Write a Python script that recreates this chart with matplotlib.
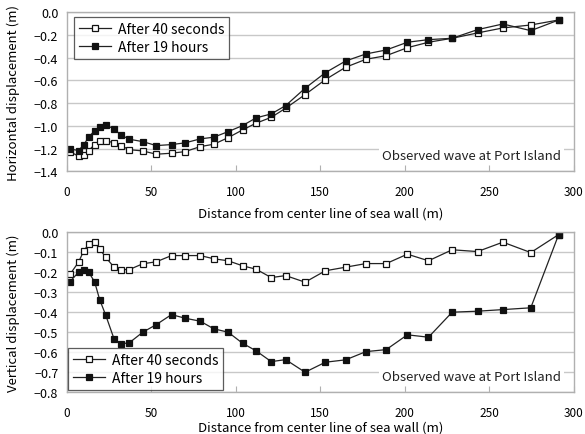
import matplotlib
matplotlib.use("Agg")
import matplotlib.pyplot as plt

plt.rcParams['font.family'] = ['Noto Sans CJK JP', 'DejaVu Sans']

# distance from center line of sea wall (m), shared by all series
distance = [2, 7, 10, 13, 16.5, 19.5, 23, 28, 32, 37, 45, 53, 62, 70, 79, 87,
            95.5, 104, 112, 121, 129.5, 141, 153, 165, 177, 189, 201.5, 214,
            228, 243, 258, 274.5, 291]

# horizontal displacement (m)
horiz_40s = [-1.227, -1.268, -1.256, -1.218, -1.165, -1.13, -1.13, -1.15, -1.174,
             -1.21, -1.221, -1.25, -1.241, -1.227, -1.183, -1.162, -1.104, -1.036,
             -0.977, -0.925, -0.845, -0.725, -0.593, -0.484, -0.414, -0.382,
             -0.312, -0.264, -0.229, -0.182, -0.138, -0.112, -0.068]
horiz_19h = [-1.203, -1.218, -1.168, -1.1, -1.042, -1.007, -0.992, -1.027, -1.08,
             -1.118, -1.139, -1.174, -1.165, -1.15, -1.115, -1.1, -1.051, -0.998,
             -0.93, -0.895, -0.822, -0.669, -0.532, -0.429, -0.367, -0.332,
             -0.264, -0.241, -0.229, -0.153, -0.103, -0.162, -0.068]

# vertical displacement (m)
vert_40s = [-0.21, -0.15, -0.095, -0.06, -0.05, -0.083, -0.125, -0.175, -0.187,
            -0.187, -0.158, -0.148, -0.117, -0.117, -0.117, -0.133, -0.143, -0.168,
            -0.185, -0.227, -0.217, -0.25, -0.193, -0.175, -0.157, -0.157, -0.11,
            -0.143, -0.088, -0.097, -0.05, -0.102, -0.012]
vert_19h = [-0.247, -0.2, -0.19, -0.2, -0.248, -0.337, -0.413, -0.533, -0.558,
            -0.553, -0.5, -0.462, -0.412, -0.43, -0.445, -0.483, -0.5, -0.555,
            -0.593, -0.647, -0.637, -0.7, -0.65, -0.638, -0.597, -0.587, -0.513,
            -0.525, -0.4, -0.395, -0.387, -0.378, -0.012]

labels = ['After 40 seconds', 'After 19 hours']
x_ticks = [0, 50, 100, 150, 200, 250, 300]

fig = plt.figure(figsize=(5.85, 4.35), dpi=100)
ax1 = fig.add_axes([0.114, 0.604, 0.867, 0.3655])
ax2 = fig.add_axes([0.114, 0.096, 0.867, 0.368])


def style_axes(ax, ylim, ystep, ylabel, legend_loc, legend_anchor, xlabelpad):
    ax.set_xlim(0, 300)
    ax.set_ylim(*ylim)
    n = int(round((ylim[1] - ylim[0]) / ystep))
    yt = [ylim[0] + i * ystep for i in range(n + 1)]
    ax.set_yticks(yt)
    ax.set_yticklabels([f"{v:.1f}".replace('-', '\u2212') if abs(v) > 1e-9 else "0.0" for v in yt])
    ax.set_xticks(x_ticks)
    ax.grid(axis='y', color='#c8c8c8', linewidth=1.0)
    ax.set_axisbelow(True)
    for s in ax.spines.values():
        s.set_color('#b0b0b0')
        s.set_linewidth(1.0)
    ax.tick_params(axis='x', direction='in', length=4, color='#b0b0b0', pad=10, labelsize=8.5)
    ax.tick_params(axis='y', length=0, pad=6, labelsize=9)
    ax.set_ylabel(ylabel, fontsize=9.5, labelpad=10)
    ax.set_xlabel('Distance from center line of sea wall (m)', fontsize=9.5, labelpad=xlabelpad)
    leg = ax.legend(labels, loc=legend_loc, bbox_to_anchor=legend_anchor, fontsize=10,
                    frameon=True, fancybox=False, handlelength=2.3, borderpad=0.35,
                    labelspacing=0.3, handletextpad=0.5, borderaxespad=0)
    leg.get_frame().set_edgecolor('#333333')
    leg.get_frame().set_linewidth(0.9)
    ax.text(0.975, 0.1, 'Observed wave at Port Island', transform=ax.transAxes,
            ha='right', va='center', fontsize=9.5, color='#222222',
            bbox=dict(facecolor='white', edgecolor='none', pad=2))


mk = dict(marker='s', markersize=5, linewidth=0.9, color='#222222', markeredgecolor='#111111',
          markeredgewidth=0.9)
ax1.plot(distance, horiz_40s, markerfacecolor='white', **mk)
ax1.plot(distance, horiz_19h, markerfacecolor='#111111', **mk)
style_axes(ax1, (-1.4, 0.0), 0.2, 'Horizontal displacement (m)', 'upper left',
           (0.015, 0.97), 6)

ax2.plot(distance, vert_40s, markerfacecolor='white', **mk)
ax2.plot(distance, vert_19h, markerfacecolor='#111111', **mk)
style_axes(ax2, (-0.8, 0.0), 0.1, 'Vertical displacement (m)', 'lower left',
           (0.003, 0.015), 1)

fig.savefig('out.png', dpi=100)
